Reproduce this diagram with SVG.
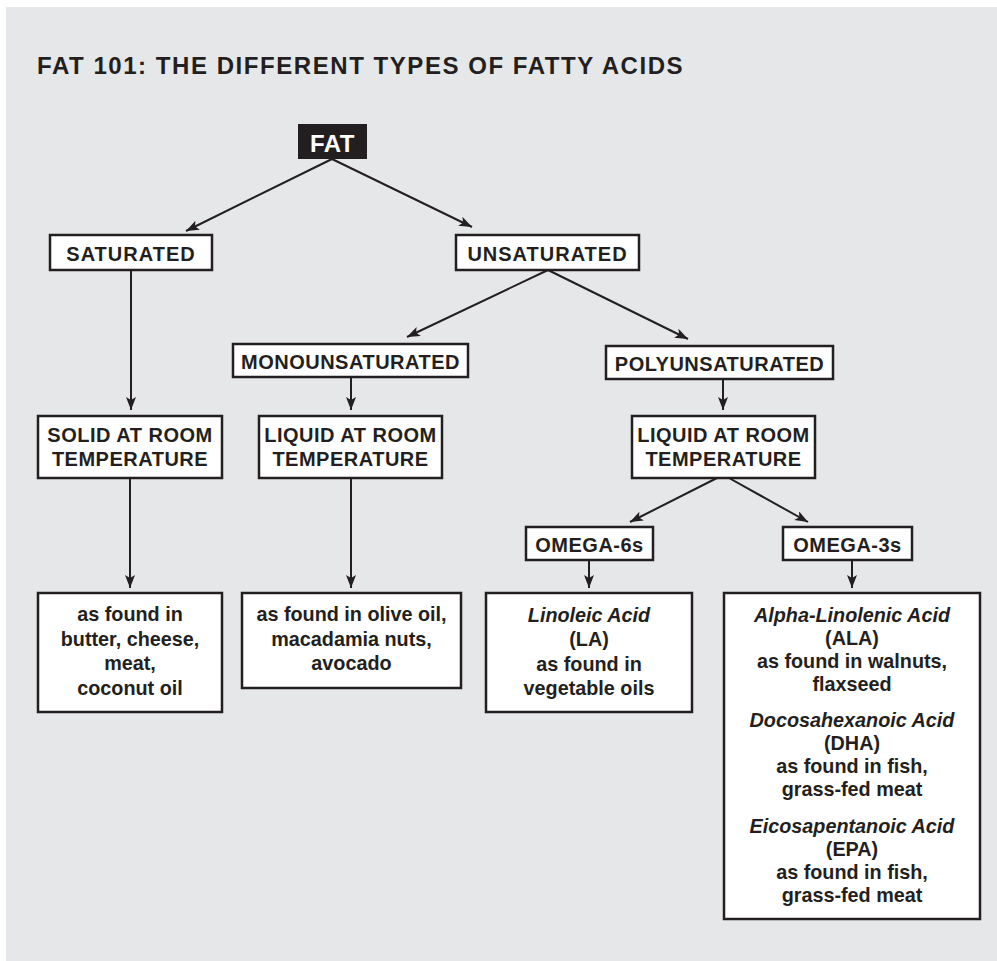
<svg xmlns="http://www.w3.org/2000/svg" width="997" height="961" viewBox="0 0 997 961">
<style>
.bg{fill:#e6e7e8}
.box{fill:#ffffff;stroke:#231f20;stroke-width:2.5}
.lbl{font-family:"Liberation Sans",Arial,sans-serif;font-weight:bold;font-size:20px;letter-spacing:0.5px;fill:#231f20;text-anchor:middle}
.txt{font-family:"Liberation Sans",Arial,sans-serif;font-weight:bold;font-size:19.8px;fill:#231f20;text-anchor:middle}
.it{font-style:italic}
.title{font-family:"Liberation Sans",Arial,sans-serif;font-weight:bold;font-size:24px;letter-spacing:1.55px;fill:#231f20}
.con line{stroke:#231f20;stroke-width:2;fill:none;marker-end:url(#ah)}
</style>
<defs>
<marker id="ah" markerUnits="userSpaceOnUse" markerWidth="14" markerHeight="11" refX="13" refY="5" orient="auto" viewBox="0 0 14 11">
<path d="M0,0 L13,5 L0,10 L3,5 Z" fill="#231f20"/>
</marker>
</defs>
<rect class="bg" x="6" y="7" width="991" height="954"/>
<text class="title" x="37" y="74">FAT 101: THE DIFFERENT TYPES OF FATTY ACIDS</text>

<g class="con">
<line x1="332" y1="159" x2="186" y2="231"/>
<line x1="332" y1="159" x2="472" y2="227"/>
<line x1="131" y1="270" x2="131" y2="410"/>
<line x1="548" y1="270" x2="407" y2="337"/>
<line x1="548" y1="270" x2="688" y2="339"/>
<line x1="351" y1="377" x2="351" y2="410"/>
<line x1="723" y1="379" x2="723" y2="410"/>
<line x1="130" y1="478" x2="130" y2="588"/>
<line x1="351" y1="478" x2="351" y2="588"/>
<line x1="717" y1="478" x2="630" y2="522"/>
<line x1="729" y1="478" x2="808" y2="522"/>
<line x1="589" y1="560" x2="589" y2="588"/>
<line x1="852" y1="560" x2="852" y2="588"/>
</g>

<g id="fat">
<rect x="298" y="124" width="69" height="35" fill="#231f20"/>
<text x="332.5" y="152" style="font-family:'Liberation Sans',Arial,sans-serif;font-weight:bold;font-size:24px;letter-spacing:0.5px;fill:#ffffff;text-anchor:middle">FAT</text>
</g>
<g id="saturated">
<rect class="box" x="50" y="235" width="162" height="35"/>
<text class="lbl" x="131" y="261" style="letter-spacing:1px">SATURATED</text>
</g>
<g id="unsaturated">
<rect class="box" x="456" y="235" width="183" height="35"/>
<text class="lbl" x="547.5" y="261" style="letter-spacing:1px">UNSATURATED</text>
</g>
<g id="mono">
<rect class="box" x="233" y="344" width="235" height="33"/>
<text class="lbl" x="350.5" y="369">MONOUNSATURATED</text>
</g>
<g id="poly">
<rect class="box" x="606" y="346" width="227" height="33"/>
<text class="lbl" x="719.5" y="371">POLYUNSATURATED</text>
</g>
<g id="solid">
<rect class="box" x="38" y="416" width="184" height="62"/>
<text class="lbl" x="130" y="442">SOLID AT ROOM</text>
<text class="lbl" x="130" y="466">TEMPERATURE</text>
</g>
<g id="liquid-mono">
<rect class="box" x="259" y="416" width="183" height="62"/>
<text class="lbl" x="350.5" y="442">LIQUID AT ROOM</text>
<text class="lbl" x="350.5" y="466">TEMPERATURE</text>
</g>
<g id="liquid-poly">
<rect class="box" x="632" y="416" width="183" height="62"/>
<text class="lbl" x="723.5" y="442">LIQUID AT ROOM</text>
<text class="lbl" x="723.5" y="466">TEMPERATURE</text>
</g>
<g id="omega6">
<rect class="box" x="526" y="527" width="127" height="33"/>
<text class="lbl" x="589.5" y="552">OMEGA-6s</text>
</g>
<g id="omega3">
<rect class="box" x="783" y="527" width="129" height="33"/>
<text class="lbl" x="847.5" y="552">OMEGA-3s</text>
</g>
<g id="sat-foods">
<rect class="box" x="38" y="593" width="184" height="119"/>
<text class="txt" x="130" y="621">as found in</text>
<text class="txt" x="130" y="646">butter, cheese,</text>
<text class="txt" x="130" y="670">meat,</text>
<text class="txt" x="130" y="695">coconut oil</text>
</g>
<g id="mono-foods">
<rect class="box" x="242" y="593" width="219" height="95"/>
<text class="txt" x="351.5" y="621">as found in olive oil,</text>
<text class="txt" x="351.5" y="646">macadamia nuts,</text>
<text class="txt" x="351.5" y="670">avocado</text>
</g>
<g id="omega6-foods">
<rect class="box" x="486" y="593" width="206" height="119"/>
<text class="txt it" x="589" y="622">Linoleic Acid</text>
<text class="txt" x="589" y="646">(LA)</text>
<text class="txt" x="589" y="671">as found in</text>
<text class="txt" x="589" y="695">vegetable oils</text>
</g>
<g id="omega3-foods">
<rect class="box" x="724" y="593" width="256" height="326"/>
<text class="txt it" x="852" y="622">Alpha-Linolenic Acid</text>
<text class="txt" x="852" y="645">(ALA)</text>
<text class="txt" x="852" y="668">as found in walnuts,</text>
<text class="txt" x="852" y="691">flaxseed</text>
<text class="txt it" x="852" y="727">Docosahexanoic Acid</text>
<text class="txt" x="852" y="750">(DHA)</text>
<text class="txt" x="852" y="773">as found in fish,</text>
<text class="txt" x="852" y="796">grass-fed meat</text>
<text class="txt it" x="852" y="833">Eicosapentanoic Acid</text>
<text class="txt" x="852" y="856">(EPA)</text>
<text class="txt" x="852" y="879">as found in fish,</text>
<text class="txt" x="852" y="902">grass-fed meat</text>
</g>
</svg>
